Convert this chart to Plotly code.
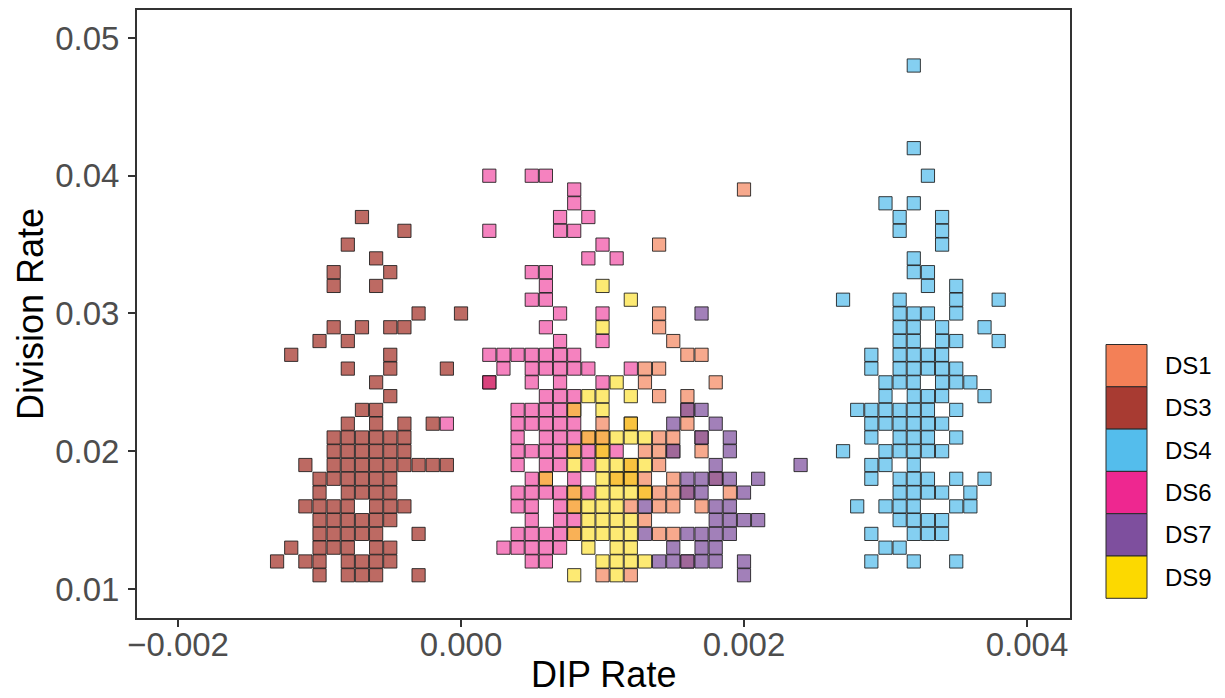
import plotly.graph_objects as go

# Cell data per dataset: (division rate, [DIP rates of the cells in that row])
ds1_rows = [
    (0.039, [0.0020]),
    (0.035, [0.0014]),
    (0.030, [0.0014]),
    (0.029, [0.0014]),
    (0.028, [0.0015]),
    (0.027, [0.0016, 0.0017]),
    (0.026, [0.0013, 0.0014]),
    (0.025, [0.0013, 0.0018]),
    (0.024, [0.0014, 0.0016]),
    (0.023, [0.0016]),
    (0.022, [0.0010, 0.0012, 0.0016]),
    (0.021, [0.0014, 0.0015, 0.0017]),
    (0.020, [0.0010, 0.0013, 0.0014, 0.0015, 0.0017]),
    (0.019, [0.0012, 0.0014]),
    (0.018, [0.0011, 0.0012, 0.0013, 0.0015, 0.0018]),
    (0.017, [0.0013, 0.0014, 0.0015, 0.0016, 0.0019]),
    (0.016, [0.0012, 0.0014, 0.0015, 0.0017]),
    (0.015, [0.0013]),
    (0.014, [0.0014, 0.0015]),
    (0.012, [0.0016]),
    (0.011, [0.0010, 0.0012]),
]

ds3_rows = [
    (0.037, [-0.0007]),
    (0.036, [-0.0004]),
    (0.035, [-0.0008]),
    (0.034, [-0.0006]),
    (0.033, [-0.0009, -0.0005]),
    (0.032, [-0.0009, -0.0006]),
    (0.030, [-0.0003, 0.0000]),
    (0.029, [-0.0009, -0.0007, -0.0005, -0.0004]),
    (0.028, [-0.0010, -0.0008]),
    (0.027, [-0.0012, -0.0005]),
    (0.026, [-0.0008, -0.0005, -0.0001]),
    (0.025, [-0.0006, 0.0002]),
    (0.024, [-0.0005]),
    (0.023, [-0.0007, -0.0006]),
    (0.022, [-0.0008, -0.0006, -0.0004, -0.0002]),
    (0.021, [-0.0009, -0.0008, -0.0007, -0.0006, -0.0005, -0.0004]),
    (0.020, [-0.0009, -0.0008, -0.0007, -0.0006, -0.0005, -0.0004]),
    (0.019, [-0.0011, -0.0009, -0.0008, -0.0007, -0.0006, -0.0005,
             -0.0004, -0.0003, -0.0002, -0.0001]),
    (0.018, [-0.0010, -0.0009, -0.0008, -0.0007, -0.0006, -0.0005]),
    (0.017, [-0.0010, -0.0008, -0.0007, -0.0006, -0.0005]),
    (0.016, [-0.0011, -0.0010, -0.0009, -0.0008, -0.0006, -0.0005, -0.0004]),
    (0.015, [-0.0010, -0.0009, -0.0008, -0.0007, -0.0006, -0.0005]),
    (0.014, [-0.0010, -0.0009, -0.0008, -0.0007, -0.0006, -0.0003]),
    (0.013, [-0.0012, -0.0010, -0.0009, -0.0008, -0.0006, -0.0005]),
    (0.012, [-0.0013, -0.0011, -0.0010, -0.0008, -0.0007, -0.0006, -0.0005]),
    (0.011, [-0.0010, -0.0008, -0.0007, -0.0006, -0.0003]),
]

ds4_rows = [
    (0.048, [0.0032]),
    (0.042, [0.0032]),
    (0.040, [0.0033]),
    (0.038, [0.0030, 0.0032]),
    (0.037, [0.0031, 0.0034]),
    (0.036, [0.0031, 0.0034]),
    (0.035, [0.0034]),
    (0.034, [0.0032]),
    (0.033, [0.0032, 0.0033]),
    (0.032, [0.0033, 0.0035]),
    (0.031, [0.0027, 0.0031, 0.0035, 0.0038]),
    (0.030, [0.0031, 0.0032, 0.0033, 0.0035]),
    (0.029, [0.0031, 0.0032, 0.0034, 0.0037]),
    (0.028, [0.0031, 0.0032, 0.0034, 0.0035, 0.0038]),
    (0.027, [0.0029, 0.0031, 0.0032, 0.0033, 0.0034]),
    (0.026, [0.0029, 0.0031, 0.0032, 0.0033, 0.0034, 0.0035]),
    (0.025, [0.0030, 0.0031, 0.0032, 0.0034, 0.0035, 0.0036]),
    (0.024, [0.0030, 0.0032, 0.0033, 0.0034, 0.0037]),
    (0.023, [0.0028, 0.0029, 0.0030, 0.0031, 0.0032, 0.0033, 0.0035]),
    (0.022, [0.0029, 0.0030, 0.0031, 0.0032, 0.0033, 0.0034]),
    (0.021, [0.0029, 0.0031, 0.0032, 0.0033, 0.0035]),
    (0.020, [0.0027, 0.0030, 0.0031, 0.0032, 0.0033, 0.0034]),
    (0.019, [0.0029, 0.0030, 0.0032]),
    (0.018, [0.0029, 0.0031, 0.0032, 0.0033, 0.0035, 0.0037]),
    (0.017, [0.0031, 0.0032, 0.0033, 0.0034, 0.0036]),
    (0.016, [0.0028, 0.0030, 0.0031, 0.0032, 0.0035, 0.0036]),
    (0.015, [0.0031, 0.0032, 0.0033, 0.0034]),
    (0.014, [0.0029, 0.0032, 0.0033, 0.0034]),
    (0.013, [0.0030, 0.0031]),
    (0.012, [0.0029, 0.0032, 0.0035]),
]

ds6_rows = [
    (0.040, [0.0002, 0.0005, 0.0006]),
    (0.039, [0.0008]),
    (0.038, [0.0008]),
    (0.037, [0.0007, 0.0009]),
    (0.036, [0.0002, 0.0007, 0.0008]),
    (0.035, [0.0010]),
    (0.034, [0.0009, 0.0011]),
    (0.033, [0.0005, 0.0006]),
    (0.032, [0.0006]),
    (0.031, [0.0005, 0.0006]),
    (0.030, [0.0007, 0.0010]),
    (0.029, [0.0006]),
    (0.028, [0.0007, 0.0010]),
    (0.027, [0.0002, 0.0003, 0.0004, 0.0005, 0.0006, 0.0007, 0.0008]),
    (0.026, [0.0003, 0.0005, 0.0006, 0.0007, 0.0008, 0.0009, 0.0012]),
    (0.025, [0.0002, 0.0005, 0.0007, 0.0010]),
    (0.024, [0.0006, 0.0007, 0.0008]),
    (0.023, [0.0004, 0.0005, 0.0006, 0.0007, 0.0008]),
    (0.022, [-0.0001, 0.0004, 0.0005, 0.0006, 0.0007, 0.0008]),
    (0.021, [0.0004, 0.0006, 0.0007, 0.0008, 0.0009, 0.0010]),
    (0.020, [0.0004, 0.0005, 0.0006, 0.0007, 0.0008, 0.0009, 0.0011]),
    (0.019, [0.0004, 0.0006, 0.0007, 0.0009]),
    (0.018, [0.0005, 0.0006, 0.0008]),
    (0.017, [0.0004, 0.0005, 0.0006, 0.0007, 0.0008, 0.0009]),
    (0.016, [0.0004, 0.0005, 0.0007, 0.0008]),
    (0.015, [0.0005, 0.0007, 0.0008]),
    (0.014, [0.0004, 0.0005, 0.0006, 0.0007, 0.0008]),
    (0.013, [0.0003, 0.0004, 0.0005, 0.0006, 0.0007]),
    (0.012, [0.0005, 0.0006]),
]

ds7_rows = [
    (0.030, [0.0017]),
    (0.023, [0.0016, 0.0017]),
    (0.022, [0.0015, 0.0018]),
    (0.021, [0.0017, 0.0019]),
    (0.020, [0.0015, 0.0019]),
    (0.019, [0.0018, 0.0024]),
    (0.018, [0.0016, 0.0017, 0.0018, 0.0019, 0.0021]),
    (0.017, [0.0016, 0.0017, 0.0020]),
    (0.016, [0.0013, 0.0018, 0.0019]),
    (0.015, [0.0018, 0.0019, 0.0020, 0.0021]),
    (0.014, [0.0013, 0.0016, 0.0017, 0.0018, 0.0019]),
    (0.013, [0.0015, 0.0017, 0.0018]),
    (0.012, [0.0014, 0.0015, 0.0016, 0.0017, 0.0018, 0.0020]),
    (0.011, [0.0020]),
]

ds9_rows = [
    (0.032, [0.0010]),
    (0.031, [0.0012]),
    (0.029, [0.0010]),
    (0.025, [0.0011]),
    (0.024, [0.0009, 0.0010, 0.0012]),
    (0.023, [0.0008, 0.0010]),
    (0.022, [0.0012]),
    (0.021, [0.0009, 0.0010, 0.0011, 0.0012, 0.0013]),
    (0.020, [0.0008, 0.0010]),
    (0.019, [0.0008, 0.0010, 0.0011, 0.0012, 0.0013]),
    (0.018, [0.0006, 0.0010, 0.0011, 0.0012]),
    (0.017, [0.0008, 0.0010, 0.0011, 0.0012, 0.0013]),
    (0.016, [0.0008, 0.0009, 0.0010, 0.0011]),
    (0.015, [0.0009, 0.0010, 0.0011, 0.0012]),
    (0.014, [0.0008, 0.0009, 0.0010, 0.0011, 0.0012]),
    (0.013, [0.0009, 0.0011, 0.0012]),
    (0.012, [0.0010, 0.0011, 0.0012, 0.0013]),
    (0.011, [0.0008, 0.0011]),
]

dataset_names = ["DS1", "DS3", "DS4", "DS6", "DS7", "DS9"]
dataset_rows = [ds1_rows, ds3_rows, ds4_rows, ds6_rows, ds7_rows, ds9_rows]
dataset_colors = [(243, 128, 87), (168, 59, 50), (84, 189, 236),
                  (238, 39, 144), (126, 79, 158), (252, 217, 0)]
# fill transparency of the cells, per dataset
dataset_alpha = [0.68, 0.76, 0.72, 0.58, 0.72, 0.55]

x_ticks = [-0.002, 0.000, 0.002, 0.004]
y_ticks = [0.01, 0.02, 0.03, 0.04, 0.05]

FONT = "Liberation Sans, Arial, Helvetica, sans-serif"
W, H = 1225, 698
L, R, T, B = 137, 155, 10, 80


def flatten(rows):
    xs, ys = [], []
    for div, dips in rows:
        for d in dips:
            xs.append(d)
            ys.append(div)
    return xs, ys


fig = go.Figure()
for name, rows, (r, g, b), a in zip(dataset_names, dataset_rows,
                                    dataset_colors, dataset_alpha):
    xs, ys = flatten(rows)
    fig.add_trace(go.Scatter(
        x=xs, y=ys, mode="markers", name=name, showlegend=False,
        marker=dict(symbol="square", size=13.2,
                    color=f"rgba({r},{g},{b},{a})",
                    line=dict(color="rgba(25,25,25,0.85)", width=1)),
        hovertemplate=name + "<br>DIP %{x:.4f}<br>Division %{y:.3f}<extra></extra>",
    ))

# key boxes drawn to the right of the panel
plot_w = W - L - R
plot_h = H - T - B


def px_to_paper_x(px):
    return (px - L) / plot_w


def px_to_paper_y(py):
    return (H - B - py) / plot_h


key_left, key_right = 1106, 1147
key_top, key_h = 344.5, 42.3
shapes = []
annotations = []
for i, (name, (r, g, b)) in enumerate(zip(dataset_names, dataset_colors)):
    top = key_top + i * key_h
    shapes.append(dict(
        type="rect", xref="paper", yref="paper",
        x0=px_to_paper_x(key_left), x1=px_to_paper_x(key_right),
        y0=px_to_paper_y(top + key_h), y1=px_to_paper_y(top),
        fillcolor=f"rgb({r},{g},{b})", line=dict(color="#2b2b2b", width=1),
        layer="above"))
    annotations.append(dict(
        xref="paper", yref="paper", x=px_to_paper_x(1163), y=px_to_paper_y(top + key_h / 2),
        xanchor="left", yanchor="middle", text=name, showarrow=False,
        font=dict(family=FONT, size=24, color="#000000")))

annotations.append(dict(
    xref="paper", yref="paper", x=0.5, y=0, yanchor="top", yshift=-34,
    text="DIP Rate", showarrow=False,
    font=dict(family=FONT, size=36, color="#000000")))
annotations.append(dict(
    xref="paper", yref="paper", x=0, y=0.5, xanchor="center", yanchor="middle",
    xshift=-(L - 30), textangle=-90, text="Division Rate", showarrow=False,
    font=dict(family=FONT, size=36, color="#000000")))

axis_common = dict(
    showgrid=False, zeroline=False, showline=True, mirror=True,
    linecolor="#333333", linewidth=2, ticks="outside", ticklen=7,
    tickwidth=2, tickcolor="#333333",
    tickfont=dict(family=FONT, size=33, color="#4d4d4d"),
)

fig.update_layout(
    width=W, height=H,
    margin=dict(l=L, r=R, t=T, b=B, autoexpand=False),
    paper_bgcolor="white", plot_bgcolor="white",
    showlegend=False,
    xaxis=dict(range=[-0.00229, 0.004304], tickvals=x_ticks, tickformat=".3f",
               ticklabelstandoff=-11, **axis_common),
    yaxis=dict(range=[0.007895, 0.05203], tickvals=y_ticks, tickformat=".2f",
               ticklabelstandoff=2, **axis_common),
    shapes=shapes,
    annotations=annotations,
)

fig.write_html("out.html")
